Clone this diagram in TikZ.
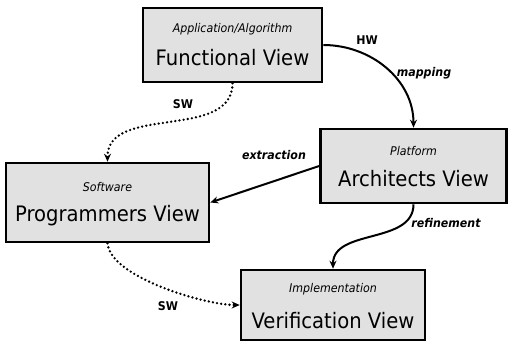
\documentclass[tikz,border=0pt]{standalone}
\usepackage{fontspec}
\setmainfont{DejaVu Sans}[FakeStretch=0.92]
\usetikzlibrary{arrows.meta}
\definecolor{boxfill}{HTML}{E1E1E1}
\begin{document}
\begin{tikzpicture}[x=1pt,y=-1pt,
  viewbox/.style={draw=black,line width=2.6pt,fill=boxfill,inner sep=0pt},
  subtext/.style={font=\fontsize{12}{14}\selectfont\itshape,inner sep=0pt},
  maintext/.style={font=\fontsize{21.3}{24}\selectfont,inner sep=0pt},
  edgetext/.style={font=\fontsize{12}{14}\selectfont\bfseries,inner sep=0pt},
  tip/.style={-{Stealth[length=8pt,width=7pt]}},
  solidlink/.style={tip,line width=2pt},
  dotlink/.style={tip,line width=2.6pt,line cap=round,dash pattern=on 0pt off 4.2pt}]
\useasboundingbox (0,0) rectangle (508,342);
% boxes
\node[viewbox,minimum width=179pt,minimum height=74pt] (fv) at (232.5,45) {};
\node[viewbox,minimum width=203pt,minimum height=79pt] (pv) at (107.5,202.5) {};
\node[viewbox,minimum width=186pt,minimum height=74pt] (av) at (413.5,166) {};
\node[viewbox,minimum width=184pt,minimum height=70pt] (vv) at (333,305) {};
% box texts
\node[subtext]  (fvs) at ([yshift=-22pt]fv.north) {Application/Algorithm};
\node[maintext] (fvm) at ([yshift=-51pt]fv.north) {Functional View};
\node[subtext]  (pvs) at ([yshift=-25pt]pv.north) {Software};
\node[maintext] (pvm) at ([yshift=-54pt]pv.north) {Programmers View};
\node[subtext]  (avs) at ([yshift=-23pt]av.north) {Platform};
\node[maintext] (avm) at ([yshift=-51pt]av.north) {Architects View};
\node[subtext]  (vvs) at ([yshift=-20pt]vv.north) {Implementation};
\node[maintext] (vvm) at ([yshift=-52pt]vv.north) {Verification View};
% connectors
\draw[solidlink] (fv.east) to[out=0,in=90] (av.north);
\draw[solidlink] (av.west) -- (pv.east);
\draw[solidlink] (av.south) to[out=-90,in=90] (vv.north);
\draw[dotlink] (fv.south) to[out=-90,in=90] (pv.north);
\draw[dotlink] (pv.south) to[out=-85,in=180,looseness=0.6] (vv.west);
% connector labels
\node[edgetext] (hw) at (367,40) {HW};
\node[edgetext] (map) at (424,73) {\itshape mapping};
\node[edgetext] (sw1) at (183,104) {SW};
\node[edgetext] (ext) at (274,155) {\itshape extraction};
\node[edgetext] (ref) at (446,223) {\itshape refinement};
\node[edgetext] (sw2) at (168,306) {SW};
\end{tikzpicture}
\end{document}
